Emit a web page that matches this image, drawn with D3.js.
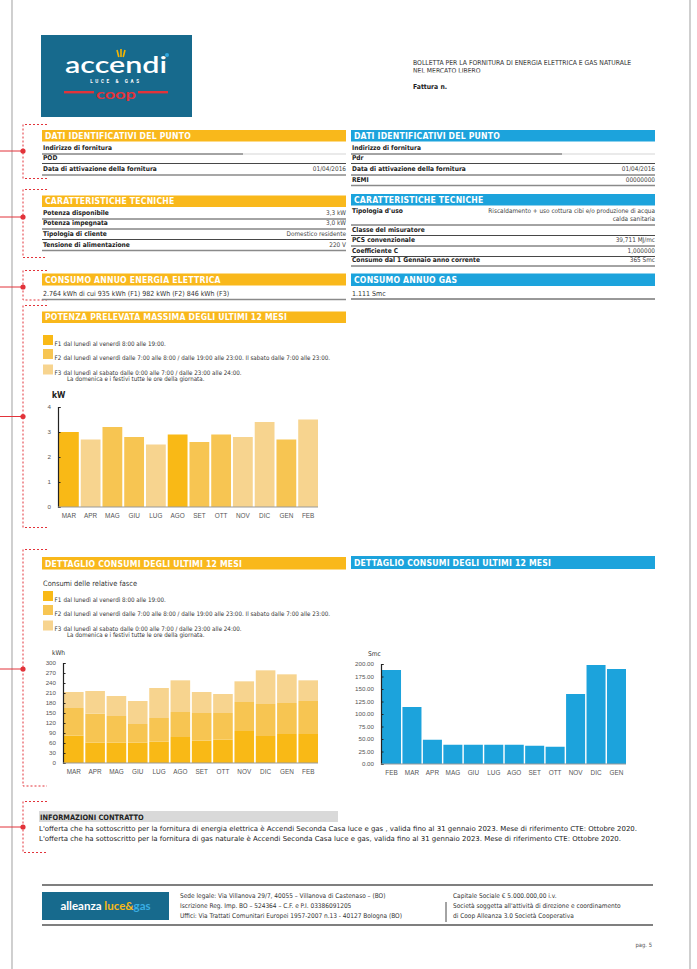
<!DOCTYPE html>
<html>
<head>
<meta charset="utf-8">
<script src="https://cdn.jsdelivr.net/npm/d3@7"></script>
<style>
  body { margin: 0; background: #fff; }
  svg { display: block; font-family: "Liberation Sans Narrow", "DejaVu Sans Condensed", Roboto, sans-serif; }
  .lbl { font-size: 6.6px; font-weight: bold; fill: #222; }
  .val { font-size: 6.4px; fill: #444; }
  .hdr { font-size: 8.6px; font-weight: bold; fill: #fff; letter-spacing: 0.2px; }
  .leg { font-size: 6.2px; fill: #333; }
</style>
</head>
<body>
<svg width="697" height="969"></svg>
<script>
'use strict';

// months and values
var months = ['MAR','APR','MAG','GIU','LUG','AGO','SET','OTT','NOV','DIC','GEN','FEB'];
var potenza = [3.0, 2.7, 3.2, 2.8, 2.5, 2.9, 2.6, 2.9, 2.8, 3.4, 2.7, 3.5];
var fasciaPotenza = ['F1','F3','F2','F2','F3','F1','F2','F2','F3','F3','F2','F3'];
var potenzaTicks = [0, 1, 2, 3, 4];

var consumoF1 = [82, 61, 61, 61, 64, 78, 67, 70, 96, 81, 87, 87];
var consumoF2 = [83, 87, 80, 56, 71, 75, 83, 80, 87, 96, 93, 99];
var consumoF3 = [48, 68, 60, 69, 90, 95, 63, 57, 62, 101, 86, 62];
var consumoTicks = [0, 30, 60, 90, 120, 150, 180, 210, 240, 270, 300];

var gasMonths = ['FEB','MAR','APR','MAG','GIU','LUG','AGO','SET','OTT','NOV','DIC','GEN'];
var gasSmc = [188, 114, 48.5, 38.5, 38.5, 38.5, 38.5, 36.5, 34.5, 140, 198, 190];
var gasTicks = [0, 25, 50, 75, 100, 125, 150, 175, 200];

var fasce = ['F1','F2','F3'];
var fasceText = [
	['dal lunedì al venerdì 8:00 alle 19:00.'],
	['dal lunedì al venerdì dalle 7:00 alle 8:00  /  dalle 19:00 alle 23:00. Il sabato dalle 7:00 alle 23:00.'],
	['dal lunedì al sabato dalle 0:00 alle 7:00  /  dalle 23:00 alle 24:00.', 'La domenica e i festivi tutte le ore della giornata.']
];

var orange = '#f9b81b';
var blue = '#1ca3dc';
var red = '#e2333a';
var colF = d3.scaleOrdinal().domain(fasce).range(['#f9b916','#f7c552','#f7d48f']);

var svg = d3.select('svg');

// page borders
svg.append('line').attr('x1',12).attr('x2',12).attr('y1',0).attr('y2',969).attr('stroke','#c4c4c4').attr('stroke-width',1.6);
svg.append('line').attr('x1',690).attr('x2',690).attr('y1',0).attr('y2',969).attr('stroke','#c4c4c4').attr('stroke-width',1.6);

// logo
var logo = svg.append('g');
logo.append('rect').attr('x',41).attr('y',35).attr('width',151).attr('height',82).attr('fill','#176a8d');
logo.append('text').attr('x',116).attr('y',73).attr('text-anchor','middle')
	.style('font-family','Lato, "Open Sans", sans-serif').style('font-size','23px').style('font-weight','600')
	.attr('fill','#fff').attr('textLength',102).attr('lengthAdjust','spacingAndGlyphs').text('accendi');
logo.append('circle').attr('cx',167).attr('cy',55).attr('r',2).attr('fill','#2fa8e0');
[[-4,-7],[0,-8],[4,-7]].forEach(function(d){
	logo.append('line').attr('x1',121+d[0]*0.55).attr('y1',57).attr('x2',121+d[0]).attr('y2',57+d[1])
		.attr('stroke','#f7b500').attr('stroke-width',1.6);
});
logo.append('text').attr('x',116).attr('y',83.2).attr('text-anchor','middle')
	.style('font-family','Roboto, sans-serif').style('font-size','4.6px').style('font-weight','bold')
	.attr('fill','#fff').attr('letter-spacing','2.6px').text('LUCE & GAS');
logo.append('rect').attr('x',64).attr('y',91).attr('width',30).attr('height',2.4).attr('fill',red);
logo.append('rect').attr('x',138).attr('y',91).attr('width',30).attr('height',2.4).attr('fill',red);
logo.append('text').attr('x',116).attr('y',98.5).attr('text-anchor','middle')
	.style('font-family','Lato, sans-serif').style('font-size','14px').style('font-weight','bold')
	.attr('fill',red).attr('textLength',40).attr('lengthAdjust','spacingAndGlyphs').text('coop');

// top right heading
svg.append('clipPath').attr('id','clipTop').append('rect').attr('x',400).attr('y',50).attr('width',280).attr('height',22.5);
var topG = svg.append('g').attr('clip-path','url(#clipTop)');
topG.append('text').attr('x',413).attr('y',65).style('font-size','6.8px').attr('fill','#333')
	.text('BOLLETTA PER LA FORNITURA DI ENERGIA ELETTRICA E GAS NATURALE');
topG.append('text').attr('x',413).attr('y',73).style('font-size','6.8px').attr('fill','#333')
	.text('NEL MERCATO LIBERO');
svg.append('text').attr('class','lbl').attr('x',413).attr('y',89).style('font-size','6.8px').text('Fattura n.');

function header(x, y, w, h, txt, fill){
	svg.append('rect').attr('x',x).attr('y',y).attr('width',w).attr('height',h).attr('fill',fill);
	svg.append('text').attr('class','hdr').attr('x',x+3).attr('y',y+h-2.8).text(txt);
}

function row(x, y, w, label, value, last, half){
	svg.append('text').attr('class','lbl').attr('x',x+1).attr('y',y).text(label);
	if (value) {
		[].concat(value).forEach(function(v,i){
			svg.append('text').attr('class','val').attr('x',x+w).attr('y',y+i*8).attr('text-anchor','end').text(v);
		});
	}
	var ly = y + 4 + ([].concat(value || '').length-1)*8;
	if (half) {
		svg.append('line').attr('x1',x).attr('x2',x+half).attr('y1',ly).attr('y2',ly).attr('stroke','#333').attr('stroke-width',0.9);
		svg.append('line').attr('x1',x+half).attr('x2',x+w).attr('y1',ly).attr('y2',ly).attr('stroke','#bbb').attr('stroke-width',0.6);
	} else {
		svg.append('line').attr('x1',x).attr('x2',x+w).attr('y1',ly).attr('y2',ly)
			.attr('stroke', last ? '#8a8a8a' : '#333').attr('stroke-width', last ? 1.6 : 0.9);
	}
}

function bracket(y0, y1, dotY){
	var g = svg.append('g').attr('stroke',red).attr('stroke-width',1).attr('stroke-dasharray','2,2').attr('fill','none');
	g.append('path').attr('d','M47,'+y0+'H23V'+y1+'H47');
	svg.append('line').attr('x1',0).attr('x2',23).attr('y1',dotY).attr('y2',dotY).attr('stroke',red).attr('stroke-width',1);
	svg.append('circle').attr('cx',23).attr('cy',dotY).attr('r',2.6).attr('fill',red);
}

// ---- left column (luce)
bracket(124.5, 178.5, 151);
header(42, 130, 304, 11.5, 'DATI IDENTIFICATIVI DEL PUNTO', orange);
row(42, 150, 304, 'Indirizzo di fornitura', null, false, 201);
row(42, 159.5, 304, 'POD', null);
row(42, 171, 304, 'Data di attivazione della fornitura', '01/04/2016', true);

bracket(189.5, 257.5, 217);
header(42, 195.5, 304, 11.5, 'CARATTERISTICHE TECNICHE', orange);
row(42, 215, 304, 'Potenza disponibile', '3,3 kW');
row(42, 225, 304, 'Potenza impegnata', '3,0 kW');
row(42, 235.5, 304, 'Tipologia di cliente', 'Domestico residente');
row(42, 246.5, 304, 'Tensione di alimentazione', '220 V', true);

bracket(270.5, 300, 287);
header(42, 273.5, 304, 12, 'CONSUMO ANNUO ENERGIA ELETTRICA', orange);
svg.append('text').attr('x',43).attr('y',295.5).style('font-size','7px').attr('fill','#333')
	.text('2.764 kWh di cui 935 kWh (F1) 982 kWh (F2) 846 kWh (F3)');
svg.append('line').attr('x1',42).attr('x2',346).attr('y1',299.5).attr('y2',299.5).attr('stroke','#8a8a8a').attr('stroke-width',1.4);

// ---- right column (gas)
header(351, 130, 304, 11.5, 'DATI IDENTIFICATIVI DEL PUNTO', blue);
row(351, 150, 304, 'Indirizzo di fornitura', null, false, 211);
row(351, 159.5, 304, 'Pdr', null);
row(351, 171, 304, 'Data di attivazione della fornitura', '01/04/2016');
row(351, 181.5, 304, 'REMI', '00000000', true);

header(351, 194, 304, 11.5, 'CARATTERISTICHE TECNICHE', blue);
row(351, 213, 304, 'Tipologia d\'uso', ['Riscaldamento + uso cottura cibi e/o produzione di acqua', 'calda sanitaria']);
row(351, 231.5, 304, 'Classe del misuratore', null);
row(351, 242, 304, 'PCS convenzionale', '39,711 MJ/mc');
row(351, 252.5, 304, 'Coefficiente C', '1,000000');
row(351, 262, 304, 'Consumo dal 1 Gennaio anno corrente', '365 Smc');

header(351, 273.5, 304, 12.5, 'CONSUMO ANNUO GAS', blue);
svg.append('text').attr('x',352).attr('y',295.5).style('font-size','7px').attr('fill','#333').text('1.111 Smc');
svg.append('line').attr('x1',351).attr('x2',655).attr('y1',299).attr('y2',299).attr('stroke','#333').attr('stroke-width',1);

// legend
function legend(y0){
	var offs = [0, 14, 29.5];
	fasce.forEach(function(f, i){
		var y = y0 + offs[i];
		svg.append('rect').attr('x',43).attr('y',y).attr('width',10).attr('height',10).attr('fill',colF(f));
		svg.append('text').attr('class','leg').attr('x',54.5).attr('y',y+10.5).text(f);
		fasceText[i].forEach(function(t, j){
			svg.append('text').attr('class','leg').attr('x', j ? 67 : 63.5).attr('y',y+10.5+j*5.5).text(t);
		});
	});
}

// ---- potenza chart
bracket(305.5, 527.5, 416.5);
header(42, 311.5, 304, 11.5, 'POTENZA PRELEVATA MASSIMA DEGLI ULTIMI 12 MESI', orange);
legend(335);
svg.append('text').attr('x',52).attr('y',398).style('font-size','9.5px').style('font-weight','bold').style('font-family','Roboto, sans-serif').attr('fill','#222').text('kW');

function chartAxes(x, y, xAxisY, yAxisX, ticks, fmt){
	var ga = svg.append('g').attr('transform','translate('+yAxisX+',0)')
		.call(d3.axisRight(y).tickValues(ticks).tickSize(2.5).tickFormat(''));
	ga.select('.domain').attr('stroke','#222').attr('stroke-width',1.2);
	ga.selectAll('.tick line').attr('stroke','#222');
	var gl = svg.append('g').attr('transform','translate('+(yAxisX-4)+',0)')
		.call(d3.axisLeft(y).tickValues(ticks).tickSize(0).tickFormat(fmt));
	gl.select('.domain').remove();
	gl.selectAll('.tick text').attr('fill','#555').style('font-size','6.2px');
	var gx = svg.append('g').attr('transform','translate(0,'+xAxisY+')')
		.call(d3.axisBottom(x).tickSize(0).tickPadding(6));
	gx.select('.domain').attr('stroke','#999').attr('stroke-width',1.2).attr('d','M'+yAxisX+',0H'+x.range()[1]);
	gx.selectAll('.tick text').attr('fill','#555').style('font-size','6.4px');
}

var x1 = d3.scaleBand().domain(months).range([59, 318]).paddingInner(0.09);
var y1 = d3.scaleLinear().domain([0, 4]).range([507, 407]);
svg.append('g').selectAll('rect').data(potenza).enter().append('rect')
	.attr('x', function(d,i){ return x1(months[i]); })
	.attr('y', function(d){ return y1(d); })
	.attr('width', x1.bandwidth())
	.attr('height', function(d){ return y1(0) - y1(d); })
	.attr('fill', function(d,i){ return colF(fasciaPotenza[i]); });
chartAxes(x1, y1, 507, 58, potenzaTicks, d3.format('d'));

// ---- consumi chart
bracket(549.5, 786, 669);
header(42, 557, 304, 12.5, 'DETTAGLIO CONSUMI DEGLI ULTIMI 12 MESI', orange);
svg.append('text').attr('x',43).attr('y',586).style('font-size','7.4px').attr('fill','#333').text('Consumi delle relative fasce');
legend(591);
svg.append('text').attr('x',52).attr('y',655).style('font-size','6.6px').attr('fill','#333').text('kWh');

var stackData = months.map(function(m, i){ return {m: m, F1: consumoF1[i], F2: consumoF2[i], F3: consumoF3[i]}; });
var series = d3.stack().keys(fasce)(stackData);
var x2 = d3.scaleBand().domain(months).range([64, 318]).paddingInner(0.08);
var y2 = d3.scaleLinear().domain([0, 300]).range([763, 663]);
svg.append('g').selectAll('g').data(series).enter().append('g')
	.attr('fill', function(s){ return colF(s.key); })
	.selectAll('rect').data(function(s){ return s; }).enter().append('rect')
	.attr('x', function(d){ return x2(d.data.m); })
	.attr('y', function(d){ return y2(d[1]); })
	.attr('width', x2.bandwidth())
	.attr('height', function(d){ return y2(d[0]) - y2(d[1]); });
chartAxes(x2, y2, 763, 63, consumoTicks, d3.format('d'));

// ---- gas chart
header(351, 556, 304, 13, 'DETTAGLIO CONSUMI DEGLI ULTIMI 12 MESI', blue);
svg.append('text').attr('x',368).attr('y',656).style('font-size','6.6px').attr('fill','#333').text('Smc');
var x3 = d3.scaleBand().domain(gasMonths).range([382, 626]).paddingInner(0.07);
var y3 = d3.scaleLinear().domain([0, 200]).range([764, 664]);
svg.append('g').selectAll('rect').data(gasSmc).enter().append('rect')
	.attr('x', function(d,i){ return x3(gasMonths[i]); })
	.attr('y', function(d){ return y3(d); })
	.attr('width', x3.bandwidth())
	.attr('height', function(d){ return y3(0) - y3(d); })
	.attr('fill', blue);
chartAxes(x3, y3, 764, 381, gasTicks, d3.format('.2f'));

// ---- informazioni contratto
bracket(801.5, 852.5, 827);
svg.append('rect').attr('x',39).attr('y',811).attr('width',299).attr('height',11).attr('fill','#d9d9d9');
svg.append('text').attr('class','lbl').attr('x',40).attr('y',820).style('font-size','7.4px').text('INFORMAZIONI CONTRATTO');
svg.append('text').attr('x',39).attr('y',831).style('font-size','6.8px').attr('fill','#222')
	.attr('textLength',598).attr('lengthAdjust','spacingAndGlyphs')
	.text('L\'offerta che ha sottoscritto per la fornitura di energia elettrica è Accendi Seconda Casa luce e gas , valida fino al 31 gennaio 2023. Mese di riferimento CTE: Ottobre 2020.');
svg.append('text').attr('x',39).attr('y',841).style('font-size','6.8px').attr('fill','#222')
	.attr('textLength',582).attr('lengthAdjust','spacingAndGlyphs')
	.text('L\'offerta che ha sottoscritto per la fornitura di gas naturale è Accendi Seconda Casa luce e gas, valida fino al 31 gennaio 2023. Mese di riferimento CTE: Ottobre 2020.');

// ---- footer
svg.append('line').attr('x1',42).attr('x2',653).attr('y1',885).attr('y2',885).attr('stroke','#555').attr('stroke-width',1.4);
svg.append('line').attr('x1',42).attr('x2',653).attr('y1',925).attr('y2',925).attr('stroke','#555').attr('stroke-width',1.4);
svg.append('rect').attr('x',42).attr('y',892).attr('width',127).attr('height',28).attr('fill','#176a8d');
var ft = svg.append('text').attr('x',105.5).attr('y',910).attr('text-anchor','middle')
	.style('font-family','Lato, Roboto, sans-serif').style('font-size','11.5px').style('font-weight','bold');
ft.append('tspan').attr('fill','#fff').text('alleanza ');
ft.append('tspan').attr('fill','#f9b916').text('luce&');
ft.append('tspan').attr('fill','#3aaee3').text('gas');

var addr = ['Sede legale: Via Villanova 29/7, 40055 – Villanova di Castenaso – (BO)',
	'Iscrizione Reg. Imp. BO – 524364 – C.F. e P.I. 03386091205',
	'Uffici: Via Trattati Comunitari Europei 1957-2007 n.13 - 40127 Bologna (BO)'];
var soc = ['Capitale Sociale € 5.000.000,00 i.v.',
	'Società soggetta all\'attività di direzione e coordinamento',
	'di Coop Alleanza 3.0 Società Cooperativa'];
addr.forEach(function(t, i){
	svg.append('text').attr('x',180).attr('y',897.5+i*10).style('font-size','6.5px').attr('fill','#333').text(t);
});
soc.forEach(function(t, i){
	svg.append('text').attr('x',453).attr('y',897.5+i*10).style('font-size','6.5px').attr('fill','#333').text(t);
});
svg.append('line').attr('x1',446).attr('x2',446).attr('y1',902).attr('y2',922).attr('stroke','#333').attr('stroke-width',0.9);
svg.append('text').attr('x',652).attr('y',947).attr('text-anchor','end').style('font-size','5.8px').attr('fill','#555').text('pag. 5');
</script>
</body>
</html>
